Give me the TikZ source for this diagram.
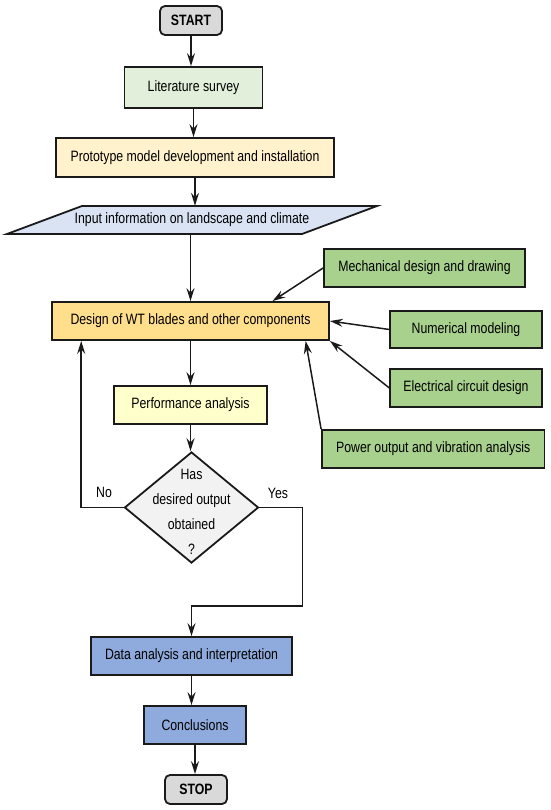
\documentclass[tikz,border=0pt]{standalone}
\usepackage{fontspec}
\setmainfont[FakeStretch=0.82]{Liberation Sans}
\usetikzlibrary{shapes.geometric,arrows.meta,calc}
\definecolor{cgray}{HTML}{D9D9D9}
\definecolor{clit}{HTML}{E2EFDA}
\definecolor{cproto}{HTML}{FFF2CC}
\definecolor{cinput}{HTML}{DAE3F3}
\definecolor{cdesign}{HTML}{FFDE8C}
\definecolor{cgreen}{HTML}{A9D18E}
\definecolor{cperf}{HTML}{FFFFCC}
\definecolor{cdec}{HTML}{F2F2F2}
\definecolor{cblue}{HTML}{8FAADC}
\definecolor{cline}{HTML}{1A1A1A}
\tikzset{
  x=1pt,y=-1pt,
  box/.style={draw=cline,line width=1.8pt,inner sep=0pt,font=\fontsize{15}{17}\selectfont,text=black},
  term/.style={box,rounded corners=5pt,fill=cgray,font=\bfseries\fontsize{15}{17}\selectfont},
  arr/.style={draw=cline,line width=1.5pt,-{Stealth[length=13pt,width=8pt,inset=4.5pt]}},
  lbl/.style={inner sep=0pt,font=\fontsize{15}{17}\selectfont}
}
\begin{document}
\begin{tikzpicture}
\useasboundingbox (0,0) rectangle (550,810);
% main column
\node[term,minimum width=62,minimum height=29] (start) at (191,20.5) {START};
\node[box,fill=clit,minimum width=138,minimum height=41] (lit) at (193.5,87.5) {Literature survey};
\node[box,fill=cproto,minimum width=278,minimum height=39] (proto) at (195,157.5) {Prototype model development and installation};
% parallelogram input
\draw[box,fill=cinput] (7,234) -- (82,206) -- (377,206) -- (302,234) -- cycle;
\node[lbl,minimum width=220,minimum height=28] (input) at (192,220) {Input information on landscape and climate};
\node[box,fill=cdesign,minimum width=277,minimum height=38] (design) at (190.5,321) {Design of WT blades and other components};
% side inputs
\node[box,fill=cgreen,minimum width=201,minimum height=38] (mech) at (424.5,268) {Mechanical design and drawing};
\node[box,fill=cgreen,minimum width=151.5,minimum height=37] (num) at (466,329.5) {Numerical modeling};
\node[box,fill=cgreen,minimum width=151.5,minimum height=38] (elec) at (466,388) {Electrical circuit design};
\node[box,fill=cgreen,minimum width=222.5,minimum height=38] (power) at (433.25,449) {Power output and vibration analysis};
\node[box,fill=cperf,minimum width=153,minimum height=38] (perf) at (190.5,405) {Performance analysis};
\node[box,fill=cdec,diamond,minimum width=134,minimum height=111] (dec) at (191.5,507.5) {};
\node[lbl,align=center,font=\fontsize{15}{25}\selectfont] (dectext) at (191.5,512) {Has\\desired output\\obtained\\?};
\node[box,fill=cblue,minimum width=201,minimum height=38] (data) at (191.5,656) {Data analysis and interpretation};
\node[box,fill=cblue,minimum width=102,minimum height=38] (concl) at (195,725) {Conclusions};
\node[term,minimum width=62,minimum height=29] (stop) at (196,789.5) {STOP};
% labels
\node[lbl] (no) at (104,492) {No};
\node[lbl] (yes) at (278,493) {Yes};
% connectors
\draw[arr] (start.south) -- (start.south |- lit.north);
\draw[arr] (lit.south) -- (lit.south |- proto.north);
\draw[arr] (proto.south) -- (proto.south |- input.north);
\draw[arr] (input.south -| design.north) -- (design.north);
\draw[arr] (mech.west) -- ($(design.north west)!0.794!(design.north east)$);
\draw[arr] (num.west) -- (design.east);
\draw[arr] (elec.west) -- (design.south east);
\draw[arr] (power.north west) -- ($(design.south west)!0.913!(design.south east)$);
\draw[arr] (design.south) -- (design.south |- perf.north);
\draw[arr] (perf.south) -- (perf.south |- dec.north);
\draw[arr] (dec.west) -| ($(design.south west)!0.108!(design.south east)$);
\coordinate (yc) at (302.5,606);
\draw[arr] (dec.east) -| (yc) -| (data.north);
\draw[arr] (data.south) -- (data.south |- concl.north);
\draw[arr] (concl.south) -- (concl.south |- stop.north);
\end{tikzpicture}
\end{document}
